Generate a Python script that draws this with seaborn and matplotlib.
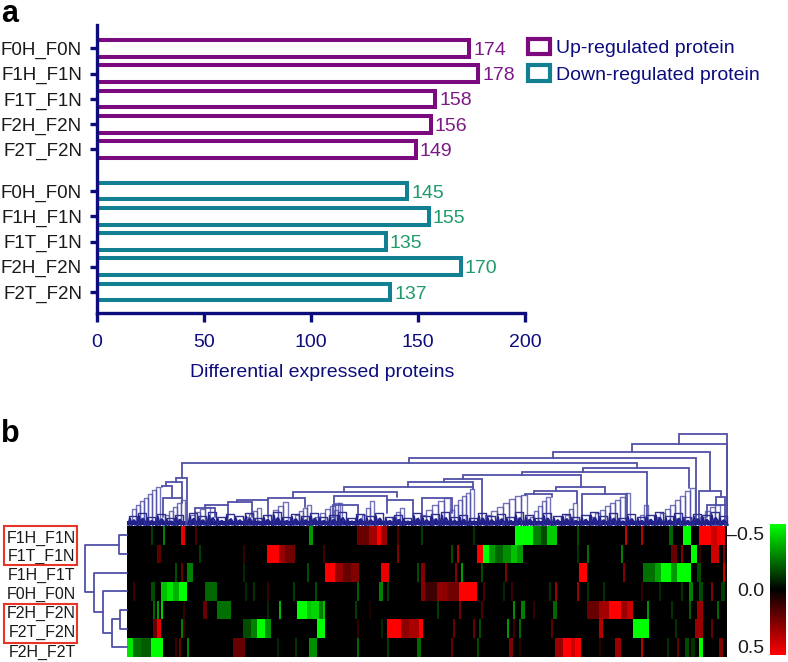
import pandas as pd
import numpy as np
import matplotlib
matplotlib.use("Agg")
import matplotlib.pyplot as plt
import seaborn as sns
from matplotlib.colors import LinearSegmentedColormap
from matplotlib.patches import Patch, Rectangle
from matplotlib.transforms import ScaledTranslation

# Panel a data
up_labels = ["F0H_F0N", "F1H_F1N", "F1T_F1N", "F2H_F2N", "F2T_F2N"]
up_counts = [174, 178, 158, 156, 149]
down_labels = ["F0H_F0N", "F1H_F1N", "F1T_F1N", "F2H_F2N", "F2T_F2N"]
down_counts = [145, 155, 135, 170, 137]
up_pos = [0, 1, 2, 3, 4]
down_pos = [5.65, 6.65, 7.65, 8.65, 9.65]

# Panel b data: (first column, last column, value), black elsewhere
row_labels = ["F1H_F1N", "F1T_F1N", "F1H_F1T", "F0H_F0N", "F2H_F2N", "F2T_F2N", "F2H_F2T"]
n_cols = 300
row_f1h_f1n = [(12, 13, -.12), (18, 19, -.25), (27, 29, .45), (34, 35, .15), (91, 93, -.3), (115, 121, .2),
               (121, 125, .32), (125, 127, .5), (127, 130, .3), (135, 136, .15), (147, 148, -.12), (173, 174, -.1),
               (194, 203, -.5), (203, 207, -.25), (207, 210, -.15), (210, 215, -.4), (225, 226, -.15), (249, 250, .4),
               (257, 258, .35), (271, 273, -.2), (278, 282, -.5), (286, 292, .5), (292, 295, .4), (295, 299, .48)]
row_f1t_f1n = [(15, 17, .18), (36, 37, -.12), (58, 59, .1), (70, 76, .5), (76, 79, .3), (79, 84, .22), (98, 99, .12),
               (135, 136, .25), (162, 163, -.15), (165, 166, .35), (175, 178, .5), (178, 181, -.5), (181, 184, -.3),
               (184, 188, -.2), (188, 192, -.28), (192, 195, -.38), (195, 198, -.3), (225, 226, -.1), (230, 231, -.22),
               (247, 248, -.25), (272, 275, .2), (277, 278, .25), (282, 285, -.5), (286, 287, .12), (292, 296, .4),
               (298, 299, .25)]
row_f1h_f1t = [(24, 25, -.15), (27, 28, .2), (30, 33, -.25), (58, 59, -.08), (90, 91, -.15), (99, 104, .5),
               (104, 108, .3), (108, 112, .2), (112, 116, .25), (127, 131, .45), (145, 146, -.15), (147, 149, .25),
               (164, 165, .25), (167, 168, -.3), (177, 178, -.15), (189, 190, .25), (226, 230, .5), (248, 249, .25),
               (258, 264, -.22), (264, 267, -.32), (267, 272, -.5), (272, 275, -.3), (275, 282, -.5), (285, 287, -.15),
               (298, 299, .4)]
row_f0h_f0n = [(3, 4, .12), (12, 14, -.15), (17, 20, -.38), (20, 23, -.45), (23, 26, -.35), (26, 30, -.5),
               (39, 45, -.2), (59, 60, -.08), (63, 64, -.1), (70, 71, .1), (83, 84, -.12), (94, 95, -.15),
               (115, 116, -.18), (126, 128, -.25), (130, 131, -.12), (147, 149, .25), (149, 155, .12), (155, 160, .28),
               (160, 166, .22), (166, 175, .5), (178, 179, .15), (188, 189, -.08), (192, 193, .12), (211, 212, -.1),
               (214, 215, .3), (225, 226, .3), (230, 231, -.1), (238, 239, -.1), (257, 258, .1), (266, 267, -.08),
               (277, 278, -.1), (281, 283, -.25), (286, 288, -.15), (292, 293, .25), (297, 299, -.12)]
row_f2h_f2n = [(13, 14, -.2), (15, 16, -.3), (17, 18, -.4), (28, 29, .1), (38, 40, .2), (45, 52, -.22), (70, 71, -.08),
               (76, 77, -.35), (85, 90, -.5), (90, 92, -.38), (92, 96, -.42), (96, 98, -.25), (98, 99, -.38),
               (114, 115, -.12), (121, 122, .06), (155, 156, -.12), (166, 167, .22), (177, 178, .15), (193, 194, -.28),
               (197, 199, -.25), (203, 204, .1), (213, 215, -.2), (230, 236, .2), (236, 241, .32), (241, 247, .5),
               (247, 250, .3), (250, 253, .4), (260, 261, -.28), (272, 273, -.1), (281, 282, -.18), (285, 288, .3),
               (295, 296, -.2)]
row_f2t_f2n = [(13, 15, .2), (15, 17, .45), (27, 28, -.25), (28, 29, .12), (58, 62, -.15), (62, 65, -.25),
               (65, 69, -.5), (69, 72, -.28), (95, 99, -.5), (115, 116, .1), (127, 128, -.08), (130, 137, .5),
               (137, 141, .28), (141, 146, .33), (146, 148, .5), (163, 164, .2), (173, 174, .2), (176, 177, -.15),
               (190, 191, -.3), (193, 194, .12), (196, 197, -.2), (212, 213, .18), (236, 238, .35), (253, 261, -.5),
               (274, 275, -.1), (284, 288, .3), (292, 293, .2)]
row_f2h_f2t = [(0, 3, -.45), (3, 7, -.22), (7, 12, -.18), (12, 18, -.5), (24, 25, .12), (26, 27, .2), (30, 31, -.25),
               (53, 59, .2), (75, 76, -.08), (84, 85, -.1), (91, 95, -.28), (115, 116, -.2), (130, 131, -.12),
               (145, 147, -.2), (162, 163, .2), (175, 176, -.15), (191, 193, .25), (196, 197, .08), (214, 218, .3),
               (218, 222, .5), (222, 224, .4), (224, 227, .5), (236, 237, .08), (244, 247, .3), (257, 258, .35),
               (270, 271, -.1), (275, 276, .2), (279, 281, -.15), (282, 284, -.1), (286, 288, -.5), (296, 298, .25)]
all_rows = [row_f1h_f1n, row_f1t_f1n, row_f1h_f1t, row_f0h_f0n, row_f2h_f2n, row_f2t_f2n, row_f2h_f2t]

# Top dendrogram: (left x, right x, height, left leg end, right leg end)
top_brackets = [(552, 600, 91, 81, 0), (505, 600, 81, 73, 0), (426, 583, 73, 67, 34), (282, 569, 67, 62, 5),
                (55, 510, 62, 47, 57), (456, 562, 57, 53, 37), (395, 520, 53, 50, 8), (336, 454, 50, 46, 38),
                (317, 355, 46, 43, 5), (281, 346, 43, 38, 38), (217, 346, 38, 33, 36), (166, 270, 33, 27, 28),
                (49, 60, 47, 43, 0), (39, 55, 43, 39, 27), (35, 45, 39, 38, 27), (36, 55, 27, 8, 22),
                (141, 178, 27, 25, 18), (110, 141, 25, 23, 8), (101, 125, 23, 20, 8), (78, 101, 20, 17, 8),
                (68, 88, 17, 8, 8), (207, 260, 29, 20, 25), (260, 286, 25, 12, 8), (206, 231, 20, 8, 8),
                (295, 325, 27, 8, 12), (407, 450, 34, 31, 22), (429, 478, 38, 34, 31), (398, 425, 31, 30, 28),
                (455, 500, 31, 8, 5), (572, 594, 34, 5, 28), (589, 598, 28, 20, 0), (580, 600, 20, 8, 0)]
# Staircases in the tree: (first x, rung width, rung heights)
ladders = [(5, 4, [16, 20, 24, 27, 31, 35, 38]), (38, 4, [10, 14, 18, 22, 25]), (63, 5, [10, 13, 16, 18]),
           (118, 4, [8, 11, 14, 17]), (141, 5, [10, 15, 19, 23]), (168, 4, [10, 14, 17, 20]),
           (188, 5, [8, 12, 16, 19, 22]), (203, 4, [8, 15, 22]), (235, 4, [10, 17, 24]), (265, 4, [8, 13, 17]),
           (293, 6, [10, 15, 20, 24, 27]), (323, 4, [15, 20, 25, 29, 32, 36]), (358, 6, [10, 14, 18, 22, 26, 29, 30]),
           (403, 4, [8, 14, 19, 24, 28]), (438, 4, [10, 16, 22]), (463, 5, [8, 12, 15, 19, 22, 25, 28, 32]),
           (513, 4, [10, 20]), (528, 5, [8, 12, 16, 20, 25, 29, 34, 37]), (573, 5, [8, 14, 18, 20])]
# Small leaf clusters along the base: position and height
tuft_x = [6, 15, 24, 34, 43, 52, 66, 75, 85, 94, 103, 112, 122, 131, 140, 150, 159, 168, 178, 187, 196, 206, 215,
          224, 233, 243, 252, 262, 271, 280, 290, 299, 308, 318, 327, 336, 346, 355, 364, 374, 383, 392, 402, 411,
          420, 430, 439, 448, 458, 467, 476, 486, 495, 504, 514, 523, 532, 542, 551, 560, 570, 579, 588, 596]
tuft_h = [9, 12, 8, 11, 7, 10, 12, 9, 13, 8, 11, 9, 12, 7, 10, 13, 8, 11, 9, 12, 8, 10, 13, 7, 11, 9, 12, 8, 10, 7,
          12, 9, 11, 13, 8, 10, 7, 12, 9, 11, 8, 13, 10, 7, 12, 9, 11, 8, 10, 13, 9, 12, 7, 11, 8, 10, 13, 9, 12,
          8, 11, 10, 13, 9]
# Row dendrogram: (upper y, lower y, distance, upper leg end, lower leg end)
left_brackets = [(.5, 1.5, 8, 0, 0), (4.5, 5.5, 7, 0, 0), (5, 6.5, 15, 7, 0), (3.5, 5.75, 24, 0, 15),
                 (2.5, 4.6, 33, 0, 24), (1, 3.55, 42, 8, 33)]
# Label nudges in pixels
row_label_shift = [3, 2, 3, 3, 4, 4, 5]
cbar_label_shift = [3, 0, 2]

NAVY = "#0c0c7c"
PURPLE = "#7a0a7e"
TEAL = "#137f93"
TREE = "#5050a8"

sns.set_theme(style="white")
plt.rcParams["font.family"] = ["Liberation Sans", "DejaVu Sans"]

W, H = 788, 662
fig = plt.figure(figsize=(W / 100, H / 100), dpi=100)


def px_axes(left, top, right, bottom):
    return fig.add_axes([left / W, 1 - bottom / H, (right - left) / W, (bottom - top) / H])


def nudge_down(label, pixels):
    label.set_transform(label.get_transform() + ScaledTranslation(0, -pixels / 100, fig.dpi_scale_trans))


# ------------ Panel a
ax = px_axes(96.7, 25, 525, 312.7)
up_df = pd.DataFrame({"count": up_counts, "pos": up_pos})
down_df = pd.DataFrame({"count": down_counts, "pos": down_pos})
sns.barplot(data=up_df, x="count", y="pos", orient="y", native_scale=True, color=PURPLE, fill=False,
            width=0.66, linewidth=2.9, ax=ax)
sns.barplot(data=down_df, x="count", y="pos", orient="y", native_scale=True, color=TEAL, fill=False,
            width=0.66, linewidth=2.9, ax=ax)
for container, color in zip(ax.containers, ["#7b1a85", "#1f9a6a"]):
    for text in ax.bar_label(container, padding=3, color=color, fontsize=14):
        text.set_va("center_baseline")
ax.set_xlim(0, 200)
ax.set_ylim(10.47, -0.93)
ax.set_yticks(up_pos + down_pos, up_labels + down_labels)
ax.set_xticks([0, 50, 100, 150, 200])
ax.set_xlabel("Differential expressed proteins", color=NAVY, fontsize=14, labelpad=9, x=0.526)
ax.set_ylabel("")
ax.tick_params(axis="x", length=6.5, width=2.4, color=NAVY, labelcolor=NAVY, labelsize=14, pad=9, bottom=True)
ax.tick_params(axis="y", length=5, width=2.4, color=NAVY, labelcolor="#1a1a1a", labelsize=13.5, pad=5.5, left=True)
sns.despine(ax=ax)
for side in ["left", "bottom"]:
    ax.spines[side].set_color(NAVY)
    ax.spines[side].set_linewidth(2.4)
handles = [Patch(facecolor="none", edgecolor=PURPLE, linewidth=3), Patch(facecolor="none", edgecolor=TEAL, linewidth=3)]
fig.legend(handles, ["Up-regulated protein", "Down-regulated protein"], loc="upper left",
           bbox_to_anchor=(514 / W, 1 - 25 / H), frameon=False, fontsize=14, labelcolor=NAVY, handlelength=1.15,
           handleheight=0.85, handletextpad=0.32, labelspacing=0.42, borderpad=0.2)
fig.text(1 / W, 1 - 22 / H, "a", fontsize=22, fontweight="bold", color="black")
fig.text(1 / W, 1 - 442 / H, "b", fontsize=22, fontweight="bold", color="black")

# ------------ Panel b heatmap
matrix = np.zeros((len(all_rows), n_cols))
for i, segments in enumerate(all_rows):
    for start, stop, value in segments:
        matrix[i, start:stop] = value
cmap = LinearSegmentedColormap.from_list("gkr", ["#00ff00", "#000000", "#ff0000"])
heat_ax = px_axes(127, 526, 727, 656.5)
cbar_ax = px_axes(770, 524, 786, 655)
sns.heatmap(matrix, cmap=cmap, vmin=-0.5, vmax=0.5, xticklabels=False, yticklabels=row_labels, ax=heat_ax,
            cbar_ax=cbar_ax, cbar_kws={"ticks": [-0.5, 0, 0.5]})
heat_ax.tick_params(axis="y", length=0, pad=37, labelsize=11.5, labelcolor="#1a1a1a", labelrotation=0)
for label, shift in zip(heat_ax.get_yticklabels(), row_label_shift):
    label.set_ha("right")
    nudge_down(label, shift)

cbar_ax.invert_yaxis()
cbar_ax.yaxis.tick_left()
cbar_ax.tick_params(length=0, pad=4, labelsize=14, labelcolor="#1a1a1a")
cbar_ax.set_yticks([-0.5, 0, 0.5], ["–0.5", "0.0", "0.5"])
cbar_labels = cbar_ax.get_yticklabels()
cbar_labels[0].set_va("top")
cbar_labels[2].set_va("bottom")
for label, shift in zip(cbar_labels, cbar_label_shift):
    nudge_down(label, shift)
for spine in cbar_ax.spines.values():
    spine.set_visible(False)

# ------------ Top dendrogram
top_ax = px_axes(127, 434, 727, 525)
top_ax.set_xlim(0, 600)
top_ax.set_ylim(0, 91)
top_ax.axis("off")
for x1, x2, h, h1, h2 in top_brackets:
    top_ax.plot([x1, x1, x2, x2], [h1, h, h, h2], color=TREE, lw=1.3, solid_joinstyle="miter", clip_on=False)
for x0, step, heights in ladders:
    for k, h in enumerate(heights):
        top_ax.plot([x0 + k * step, x0 + k * step, x0 + (k + 1) * step, x0 + (k + 1) * step],
                    [0, h, h, 0], color=TREE, lw=1.0, alpha=0.8, clip_on=False)
for x, h in zip(tuft_x, tuft_h):
    top_ax.plot([x - 4, x - 4, x + 4, x + 4], [0, h, h, 0], color="#30308f", lw=1.0, clip_on=False)
    top_ax.plot([x - 5, x - 3, x - 1, x + 1, x + 3, x + 5], [0, h * 0.75, 0, h * 0.55, h * 0.3, 0],
                color="#22228a", lw=1.3, clip_on=False)
    top_ax.plot([x - 2, x, x + 2], [0, h * 0.5, 0], color="#22228a", lw=1.3, clip_on=False)
top_ax.fill_between([0, 600], 0, 4.5, color="#14147f", lw=0, clip_on=False)

# ------------ Row dendrogram
left_ax = px_axes(85, 526, 127, 656.5)
left_ax.set_xlim(42, 0)
left_ax.set_ylim(7, 0)
left_ax.axis("off")
for y1, y2, d, d1, d2 in left_brackets:
    left_ax.plot([d1, d, d, d2], [y1, y1, y2, y2], color=TREE, lw=1.3, clip_on=False)

# Red boxes around the matched comparisons
for top, bottom in [(526, 565), (604, 643)]:
    fig.add_artist(Rectangle((4 / W, 1 - bottom / H), 73 / W, (bottom - top) / H, fill=False, edgecolor="#e8352a",
                             linewidth=1.5, transform=fig.transFigure))

fig.savefig("out.png", dpi=100)
